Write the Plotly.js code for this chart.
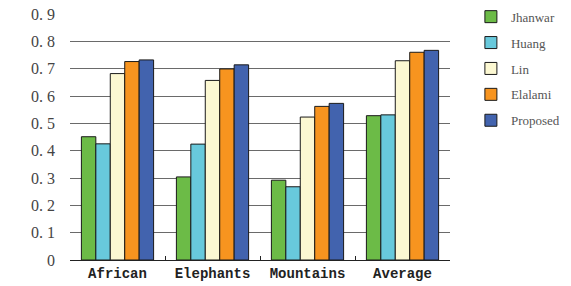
<!DOCTYPE html>
<html><head><meta charset="utf-8">
<script src="https://cdn.plot.ly/plotly-3.0.1.min.js"></script>
<style>body{margin:0;background:#fff}#chart{width:571px;height:286px}</style>
</head><body><div id="chart"></div>
<script>
const categories = ["African", "Elephants", "Mountains", "Average"];
const seriesNames = ["Jhanwar", "Huang", "Lin", "Elalami", "Proposed"];
const jhanwar  = [0.451, 0.304, 0.292, 0.528];
const huang    = [0.425, 0.424, 0.268, 0.531];
const lin      = [0.682, 0.657, 0.523, 0.729];
const elalami  = [0.726, 0.699, 0.562, 0.760];
const proposed = [0.732, 0.714, 0.573, 0.767];
const yTickVals = [0, 0.1, 0.2, 0.3, 0.4, 0.5, 0.6, 0.7, 0.8, 0.9];
const yTickText = ["0", "0. 1", "0. 2", "0. 3", "0. 4", "0. 5", "0. 6", "0. 7", "0. 8", "0. 9"];
const gridVals = [0.1, 0.2, 0.3, 0.4, 0.5, 0.6, 0.7, 0.8];

const colors = ["#6cbb47", "#68c9dc", "#fcf8d2", "#f7941f", "#4263ae"];
const values = [jhanwar, huang, lin, elalami, proposed];

const traces = values.map((v, i) => ({
  type: "bar",
  name: seriesNames[i],
  x: categories,
  y: v,
  legendgroup: "g" + i,
  marker: {color: colors[i], line: {color: "#1a1a1a", width: 1}},
  hoverinfo: "x+y+name"
}));
// invisible helper trace so the grid axis is drawn
traces.push({type: "scatter", mode: "markers", x: categories, y: proposed, yaxis: "y2",
  marker: {opacity: 0}, showlegend: false, hoverinfo: "skip"});

const layout = {
  width: 571, height: 286,
  margin: {l: 70, r: 121, t: 14, b: 26, autoexpand: false},
  paper_bgcolor: "#fff", plot_bgcolor: "#fff",
  barmode: "group", bargap: 0.24, bargroupgap: 0,
  showlegend: true,
  legend: {x: 1.055, y: 1.05, xanchor: "left", yanchor: "top",
           font: {family: "Liberation Serif", size: 13, color: "#555"},
           tracegroupgap: 6, itemwidth: 30},
  xaxis: {type: "category", showgrid: false, showline: true, linecolor: "#222", linewidth: 1,
          ticks: "inside", tickson: "boundaries", ticklen: 4, tickcolor: "#222",
          tickfont: {family: "Liberation Mono, monospace", size: 14, color: "#222", weight: "bold"}},
  yaxis: {range: [0, 0.9], tickvals: yTickVals, ticktext: yTickText, showgrid: false,
          zeroline: false, showline: false, ticks: "", ticklabelstandoff: 14,
          tickfont: {family: "Liberation Serif, serif", size: 16, color: "#444"}},
  yaxis2: {overlaying: "y", matches: "y", range: [0, 0.9], tickvals: gridVals, showticklabels: false,
           showgrid: true, gridcolor: "#6a6a6a", gridwidth: 1, zeroline: false, ticks: "", layer: "below traces"}
};

Plotly.newPlot("chart", traces, layout, {displayModeBar: false, staticPlot: true});
</script></body></html>
